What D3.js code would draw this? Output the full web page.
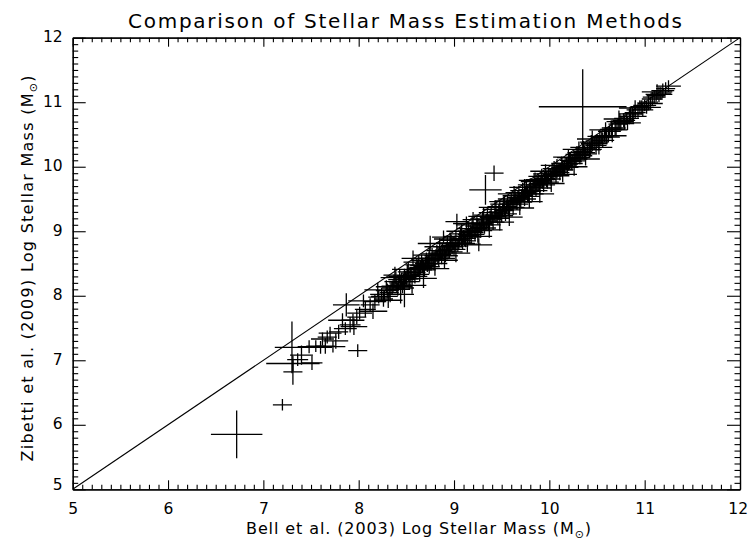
<!DOCTYPE html>
<html>
<head>
<meta charset="utf-8">
<script src="https://cdn.jsdelivr.net/npm/d3@7"></script>
<style>
  html, body { margin: 0; padding: 0; background: #fff; }
  svg { display: block; }
  text { font-family: "DejaVu Sans", sans-serif; fill: #000; }
</style>
</head>
<body>
<svg id="chart" width="748" height="544"></svg>
<script>
// ---- data: [Bell log M, Zibetti log M, Bell error, Zibetti error] ----
const outlierPoints = [
  [6.72,5.85,0.27,0.37],[10.35,10.93,0.46,0.58],[9.33,9.64,0.17,0.23],[9.42,9.90,0.10,0.12],
  [7.20,6.31,0.10,0.09],[7.99,7.15,0.10,0.10],[9.26,8.79,0.14,0.10]
];
const lowMassPoints = [
  [7.30,7.20,0.18,0.40],[7.31,6.95,0.28,0.12],[7.31,6.82,0.10,0.20],[7.36,7.01,0.11,0.10],
  [7.40,7.08,0.12,0.15],[7.51,6.96,0.11,0.11],[7.48,7.21,0.12,0.10],[7.55,7.22,0.10,0.09],
  [7.60,7.20,0.12,0.10],[7.65,7.22,0.10,0.12],[7.73,7.21,0.13,0.09],[7.67,7.36,0.10,0.10],
  [7.70,7.42,0.12,0.10],[7.79,7.44,0.10,0.11],[7.87,7.86,0.14,0.18],[7.86,7.49,0.12,0.10],
  [7.91,7.55,0.11,0.12],[7.94,7.62,0.12,0.10],[7.98,7.67,0.10,0.11],[8.01,7.73,0.13,0.10],
  [8.07,7.79,0.11,0.12],[8.12,7.86,0.10,0.10],[8.17,7.91,0.12,0.11],[8.21,7.98,0.11,0.10],
  [7.62,7.33,0.12,0.10],[7.76,7.30,0.13,0.12],[7.83,7.62,0.15,0.11],[7.95,7.52,0.14,0.13],
  [8.05,7.92,0.16,0.10],[8.15,7.76,0.15,0.12],[8.20,8.09,0.14,0.11]
];
const midMassPoints = [
  [8.24,8.02,0.12,0.10],[8.26,7.95,0.10,0.12],[8.27,7.99,0.14,0.09],[8.29,8.14,0.11,0.10],
  [8.30,8.08,0.12,0.11],[8.32,8.05,0.10,0.09],[8.33,8.02,0.13,0.12],[8.35,8.12,0.11,0.10],
  [8.36,8.15,0.12,0.09],[8.37,8.22,0.10,0.11],[8.38,8.32,0.12,0.13],[8.40,8.16,0.11,0.10],
  [8.41,8.10,0.13,0.10],[8.42,8.20,0.10,0.12],[8.43,8.30,0.12,0.10],[8.44,8.18,0.11,0.09],
  [8.45,8.25,0.14,0.11],[8.46,8.14,0.10,0.10],[8.47,8.22,0.12,0.12],[8.48,8.12,0.10,0.30],
  [8.49,8.28,0.11,0.10],[8.50,8.26,0.13,0.09],[8.51,8.37,0.10,0.11],[8.52,8.31,0.12,0.10],
  [8.53,8.22,0.11,0.12],[8.54,8.30,0.14,0.10],[8.55,8.35,0.10,0.09],[8.57,8.58,0.12,0.12],
  [8.58,8.37,0.11,0.10],[8.59,8.30,0.13,0.11],[8.60,8.36,0.10,0.10],[8.61,8.48,0.12,0.09],
  [8.62,8.42,0.11,0.12],[8.63,8.40,0.14,0.10],[8.64,8.33,0.10,0.11],[8.65,8.44,0.12,0.10],
  [8.66,8.55,0.11,0.09],[8.67,8.47,0.13,0.12],[8.68,8.45,0.10,0.10],[8.69,8.40,0.12,0.11],
  [8.70,8.50,0.11,0.10],[8.71,8.58,0.14,0.09],[8.72,8.49,0.10,0.12],[8.73,8.54,0.12,0.10],
  [8.74,8.45,0.11,0.11],[8.75,8.81,0.13,0.12],[8.76,8.55,0.10,0.10],[8.77,8.65,0.12,0.09],
  [8.78,8.58,0.11,0.12],[8.79,8.50,0.14,0.10],[8.80,8.57,0.10,0.11],[8.81,8.62,0.12,0.10],
  [8.82,8.70,0.11,0.09],[8.83,8.60,0.13,0.12],[8.84,8.55,0.10,0.10],[8.85,8.66,0.12,0.11],
  [8.86,8.64,0.11,0.10],[8.87,8.58,0.14,0.09],[8.88,8.70,0.10,0.12],[8.89,8.91,0.12,0.10],
  [8.90,8.68,0.11,0.11],[8.91,8.62,0.13,0.10],[8.92,8.74,0.10,0.09],[8.93,8.82,0.12,0.12],
  [8.94,8.72,0.11,0.10],[8.95,8.68,0.14,0.11],[8.96,8.78,0.10,0.10],[8.97,8.86,0.12,0.09],
  [8.98,8.76,0.11,0.12],[8.99,8.81,0.13,0.10],
  [8.31,7.93,0.15,0.12],[8.39,8.28,0.16,0.10],[8.44,8.02,0.14,0.14],[8.52,8.41,0.17,0.11],
  [8.56,8.16,0.15,0.13],[8.63,8.52,0.16,0.10],[8.68,8.27,0.14,0.15],[8.74,8.63,0.17,0.12],
  [8.80,8.42,0.15,0.11],[8.85,8.76,0.16,0.13],[8.90,8.55,0.14,0.12],[8.96,8.88,0.17,0.10]
];
const highMassPoints = [
  [9.00,8.72,0.12,0.10],[9.01,8.80,0.10,0.11],[9.02,8.92,0.13,0.10],[9.03,9.15,0.12,0.12],
  [9.04,8.77,0.11,0.09],[9.05,8.82,0.14,0.10],[9.06,8.88,0.10,0.12],[9.07,8.96,0.12,0.10],
  [9.08,8.86,0.11,0.11],[9.09,8.81,0.13,0.09],[9.10,8.92,0.10,0.10],[9.11,8.89,0.12,0.12],
  [9.12,8.85,0.11,0.10],[9.13,9.12,0.14,0.11],[9.14,8.95,0.10,0.09],[9.15,9.04,0.12,0.10],
  [9.16,8.93,0.11,0.12],[9.17,9.00,0.13,0.10],[9.18,8.91,0.10,0.11],[9.19,8.98,0.12,0.10],
  [9.20,9.18,0.11,0.12],[9.21,9.04,0.14,0.09],[9.22,8.95,0.10,0.10],[9.23,9.02,0.12,0.11],
  [9.24,9.13,0.11,0.10],[9.25,9.08,0.13,0.12],[9.27,9.06,0.10,0.09],[9.28,9.01,0.12,0.11],
  [9.29,9.12,0.11,0.10],[9.30,9.19,0.13,0.12],[9.31,9.10,0.10,0.10],[9.32,9.05,0.12,0.09],
  [9.34,9.16,0.11,0.11],[9.35,9.25,0.14,0.10],[9.36,9.14,0.10,0.12],[9.37,9.10,0.12,0.10],
  [9.38,9.21,0.11,0.11],[9.39,9.29,0.13,0.09],[9.40,9.19,0.10,0.10],[9.41,9.14,0.12,0.12],
  [9.43,9.25,0.11,0.10],[9.44,9.34,0.14,0.11],[9.45,9.23,0.10,0.09],[9.46,9.20,0.12,0.10],
  [9.47,9.30,0.11,0.12],[9.48,9.38,0.13,0.10],[9.49,9.28,0.10,0.11],[9.50,9.24,0.12,0.10],
  [9.51,9.34,0.11,0.09],[9.52,9.42,0.14,0.12],[9.53,9.32,0.10,0.10],[9.54,9.27,0.12,0.11],
  [9.55,9.38,0.11,0.10],[9.56,9.47,0.13,0.09],[9.57,9.36,0.10,0.12],[9.58,9.33,0.12,0.10],
  [9.59,9.42,0.11,0.11],[9.60,9.50,0.14,0.10],[9.61,9.44,0.10,0.09],[9.62,9.37,0.12,0.12],
  [9.63,9.46,0.11,0.10],[9.64,9.55,0.13,0.11],[9.65,9.48,0.10,0.10],[9.66,9.42,0.12,0.09],
  [9.67,9.52,0.11,0.12],[9.68,9.60,0.14,0.10],[9.69,9.50,0.10,0.11],[9.70,9.45,0.12,0.10],
  [9.71,9.56,0.11,0.09],[9.72,9.63,0.13,0.12],[9.73,9.55,0.10,0.10],[9.74,9.50,0.12,0.11],
  [9.75,9.60,0.11,0.10],[9.76,9.68,0.14,0.09],[9.77,9.58,0.10,0.12],[9.78,9.54,0.12,0.10],
  [9.79,9.64,0.11,0.11],[9.80,9.72,0.13,0.10],[9.81,9.62,0.10,0.09],[9.82,9.58,0.12,0.12],
  [9.83,9.68,0.11,0.10],[9.84,9.77,0.14,0.11],[9.85,9.70,0.10,0.10],[9.86,9.63,0.12,0.09],
  [9.87,9.72,0.11,0.12],[9.88,9.80,0.13,0.10],[9.89,9.74,0.10,0.11],[9.90,9.67,0.12,0.10],
  [9.91,9.78,0.11,0.09],[9.92,9.85,0.14,0.12],[9.93,9.76,0.10,0.10],[9.94,9.72,0.12,0.11],
  [9.95,9.82,0.11,0.10],[9.96,9.89,0.13,0.09],[9.97,9.80,0.10,0.12],[9.98,9.76,0.12,0.10],
  [9.99,9.86,0.11,0.11],
  [9.02,8.66,0.15,0.14],[9.08,9.00,0.16,0.11],[9.14,8.80,0.14,0.13],[9.19,9.10,0.17,0.12],
  [9.25,8.92,0.15,0.10],[9.31,9.23,0.16,0.14],[9.37,9.02,0.14,0.12],[9.43,9.37,0.17,0.11],
  [9.48,9.14,0.15,0.13],[9.53,9.46,0.16,0.10],[9.58,9.22,0.14,0.14],[9.63,9.58,0.17,0.12],
  [9.69,9.36,0.15,0.11],[9.74,9.68,0.16,0.13],[9.79,9.46,0.14,0.10],[9.85,9.79,0.17,0.12],
  [9.90,9.58,0.15,0.14],[9.96,9.93,0.16,0.11]
];
const topMassPoints = [
  [10.01,9.86,0.12,0.10],[10.02,9.81,0.10,0.11],[10.03,9.90,0.13,0.10],[10.04,9.88,0.11,0.09],
  [10.05,9.97,0.12,0.12],[10.06,9.93,0.10,0.10],[10.07,9.86,0.14,0.11],[10.08,9.92,0.11,0.10],
  [10.10,9.97,0.12,0.09],[10.11,9.91,0.10,0.12],[10.12,9.95,0.13,0.10],[10.13,10.05,0.11,0.11],
  [10.14,10.01,0.12,0.10],[10.15,9.95,0.10,0.09],[10.16,9.99,0.14,0.12],[10.18,10.05,0.11,0.10],
  [10.19,10.00,0.12,0.11],[10.20,10.04,0.10,0.10],[10.21,10.14,0.13,0.09],[10.22,10.10,0.11,0.12],
  [10.23,10.05,0.12,0.10],[10.24,10.08,0.10,0.11],[10.26,10.14,0.14,0.10],[10.27,10.09,0.11,0.09],
  [10.28,10.12,0.12,0.12],[10.29,10.22,0.10,0.10],[10.30,10.19,0.13,0.11],[10.32,10.14,0.11,0.10],
  [10.33,10.17,0.12,0.09],[10.35,10.24,0.10,0.12],[10.36,10.30,0.14,0.10],[10.37,10.22,0.11,0.11],
  [10.38,10.20,0.12,0.10],[10.40,10.29,0.10,0.09],[10.42,10.27,0.13,0.12],[10.43,10.26,0.11,0.10],
  [10.44,10.38,0.12,0.11],[10.45,10.34,0.10,0.10],[10.47,10.36,0.14,0.09],[10.49,10.33,0.11,0.12],
  [10.50,10.40,0.12,0.10],[10.52,10.38,0.10,0.11],[10.53,10.47,0.13,0.10],[10.55,10.45,0.11,0.09],
  [10.56,10.41,0.12,0.12],[10.58,10.48,0.10,0.10],[10.60,10.46,0.14,0.11],[10.62,10.48,0.11,0.10],
  [10.63,10.55,0.12,0.09],[10.65,10.60,0.10,0.12],[10.66,10.58,0.13,0.10],[10.69,10.60,0.11,0.11],
  [10.70,10.57,0.12,0.10],[10.72,10.66,0.10,0.09],[10.74,10.70,0.14,0.12],[10.75,10.68,0.11,0.10],
  [10.78,10.72,0.12,0.11],[10.79,10.67,0.10,0.10],[10.81,10.75,0.13,0.09],[10.84,10.78,0.11,0.12],
  [10.85,10.82,0.12,0.10],[10.87,10.82,0.10,0.11],[10.88,10.78,0.14,0.10],[10.90,10.84,0.11,0.09],
  [10.93,10.88,0.12,0.12],[10.95,10.93,0.10,0.10],[10.97,10.92,0.13,0.11],[10.98,10.88,0.11,0.10],
  [11.00,10.95,0.12,0.09],[11.04,11.00,0.10,0.12],[11.06,10.98,0.13,0.10],[11.08,11.05,0.11,0.11],
  [11.10,11.08,0.12,0.10],[11.12,11.10,0.10,0.09],[11.15,11.12,0.14,0.12],[11.17,11.14,0.11,0.10],
  [11.19,11.18,0.12,0.11],[11.22,11.21,0.10,0.10],[11.25,11.25,0.13,0.09],
  [10.02,9.74,0.14,0.13],[10.08,10.02,0.17,0.10],[10.14,9.88,0.15,0.12],[10.20,10.15,0.16,0.11],
  [10.26,10.00,0.14,0.14],[10.31,10.27,0.17,0.12],[10.38,10.12,0.15,0.10],[10.45,10.43,0.16,0.13],
  [10.52,10.30,0.14,0.11],[10.59,10.57,0.17,0.12],[10.66,10.48,0.15,0.10],[10.73,10.74,0.16,0.13],
  [10.82,10.68,0.14,0.11],[10.90,10.91,0.17,0.12],[11.02,10.92,0.15,0.10],[11.13,11.16,0.16,0.12]
];
const axisRange = [5, 12];
const majorTicks = [5, 6, 7, 8, 9, 10, 11, 12];
const titleText = "Comparison of Stellar Mass Estimation Methods";
const xLabelText = "Bell et al. (2003) Log Stellar Mass (M";
const yLabelText = "Zibetti et al. (2009) Log Stellar Mass (M";
const sunSymbol = "\u2299";

// ---- layout ----
const L = 72.7, R = 740, T = 37.7, B = 489.3;
const FONT = "'DejaVu Sans', sans-serif";
const svg = d3.select("#chart");
const x = d3.scaleLinear().domain(axisRange).range([L, R]);
const y = d3.scaleLinear().domain(axisRange).range([B, T]);
const minorTicks = d3.range(50, 121).map(v => v / 10).filter(v => !majorTicks.includes(v));

svg.append("defs").append("clipPath").attr("id", "plotclip")
  .append("rect").attr("x", L).attr("y", T).attr("width", R - L).attr("height", B - T);

function styleAxis(g) {
  g.selectAll("path.domain").attr("stroke", "#000").attr("stroke-width", 1.2);
  g.selectAll(".tick line").attr("stroke", "#000").attr("stroke-width", 1.1);
  g.selectAll("text").attr("font-size", 15.5).attr("font-family", FONT).attr("fill", "#000");
}
// bottom
svg.append("g").attr("transform", `translate(0,${B})`)
  .call(d3.axisBottom(x).tickValues(minorTicks).tickSize(-4.5).tickSizeOuter(0).tickFormat(""))
  .call(styleAxis);
const gx = svg.append("g").attr("transform", `translate(0,${B})`)
  .call(d3.axisBottom(x).tickValues(majorTicks).tickSize(-9).tickSizeOuter(0).tickPadding(14).tickFormat(d3.format("d")))
  .call(styleAxis);
gx.selectAll(".tick text").filter(d => d === 12).attr("text-anchor", "end").attr("x", 7.5);
// top
svg.append("g").attr("transform", `translate(0,${T})`)
  .call(d3.axisTop(x).tickValues(minorTicks).tickSize(-4.5).tickSizeOuter(0).tickFormat(""))
  .call(styleAxis);
svg.append("g").attr("transform", `translate(0,${T})`)
  .call(d3.axisTop(x).tickValues(majorTicks).tickSize(-9).tickSizeOuter(0).tickFormat(""))
  .call(styleAxis);
// left
svg.append("g").attr("transform", `translate(${L},0)`)
  .call(d3.axisLeft(y).tickValues(minorTicks).tickSize(-5.5).tickSizeOuter(0).tickFormat(""))
  .call(styleAxis);
const gy = svg.append("g").attr("transform", `translate(${L},0)`)
  .call(d3.axisLeft(y).tickValues(majorTicks).tickSize(-13).tickSizeOuter(0).tickPadding(10).tickFormat(d3.format("d")))
  .call(styleAxis);
gy.selectAll(".tick text").attr("dy", d => d === 5 ? "0em" : "0.25em");
// right
svg.append("g").attr("transform", `translate(${R},0)`)
  .call(d3.axisRight(y).tickValues(minorTicks).tickSize(-5.5).tickSizeOuter(0).tickFormat(""))
  .call(styleAxis);
svg.append("g").attr("transform", `translate(${R},0)`)
  .call(d3.axisRight(y).tickValues(majorTicks).tickSize(-13).tickSizeOuter(0).tickFormat(""))
  .call(styleAxis);

// one-to-one line
const plot = svg.append("g").attr("clip-path", "url(#plotclip)");
plot.append("line")
  .attr("x1", x(axisRange[0])).attr("y1", y(axisRange[0]))
  .attr("x2", x(axisRange[1])).attr("y2", y(axisRange[1]))
  .attr("stroke", "#000").attr("stroke-width", 1.1);

// crosses (error bars)
const allPoints = [].concat(lowMassPoints, midMassPoints, highMassPoints, topMassPoints, outlierPoints);
const cross = plot.selectAll("g.pt").data(allPoints).join("g").attr("class", "pt");
cross.append("line")
  .attr("x1", d => x(d[0] - d[2])).attr("x2", d => x(d[0] + d[2]))
  .attr("y1", d => y(d[1])).attr("y2", d => y(d[1]))
  .attr("stroke", "#000").attr("stroke-width", 1.3);
cross.append("line")
  .attr("x1", d => x(d[0])).attr("x2", d => x(d[0]))
  .attr("y1", d => y(d[1] - d[3])).attr("y2", d => y(d[1] + d[3]))
  .attr("stroke", "#000").attr("stroke-width", 1.3);

// title
svg.append("text").attr("x", 405).attr("y", 27.5).attr("text-anchor", "middle")
  .attr("font-family", FONT).attr("font-size", 20).attr("textLength", 554).attr("lengthAdjust", "spacing")
  .text(titleText);

// axis titles with solar subscript
function labelWithSun(sel, base) {
  sel.append("tspan").text(base);
  sel.append("tspan").attr("font-size", 11).attr("dy", 4).text(sunSymbol);
  sel.append("tspan").attr("dy", -4).text(")");
}
const xl = svg.append("text").attr("x", 418.5).attr("y", 533.5).attr("text-anchor", "middle")
  .attr("font-family", FONT).attr("font-size", 16).attr("textLength", 345).attr("lengthAdjust", "spacing");
labelWithSun(xl, xLabelText);
const yl = svg.append("text").attr("transform", `translate(33,268.5) rotate(-90)`)
  .attr("text-anchor", "middle").attr("font-family", FONT).attr("font-size", 16)
  .attr("textLength", 386).attr("lengthAdjust", "spacing");
labelWithSun(yl, yLabelText);
</script>
</body>
</html>
